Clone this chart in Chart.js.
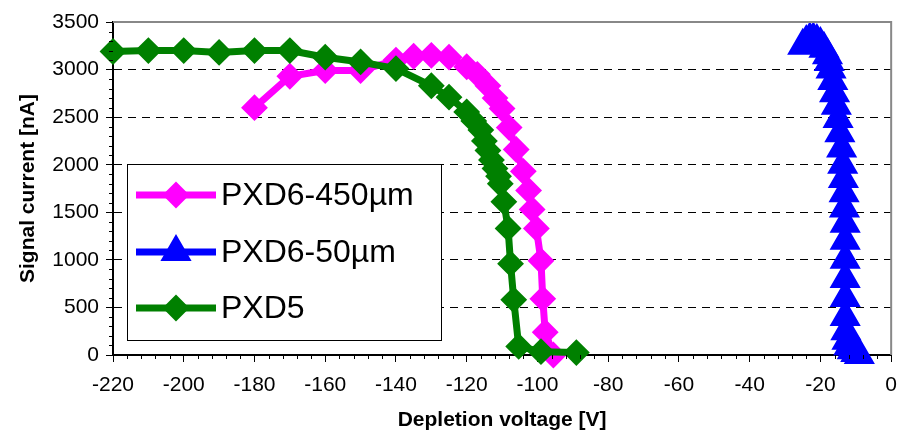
<!DOCTYPE html>
<html>
<head>
<meta charset="utf-8">
<script src="https://cdn.jsdelivr.net/npm/chart.js@4/dist/chart.umd.min.js"></script>
<style>
  html, body { margin: 0; padding: 0; background: #fff; }
  #wrap { width: 900px; height: 436px; }
</style>
</head>
<body>
<div id="wrap"><canvas id="chart" width="900" height="436"></canvas></div>
<script>
// data
const pxd6_450_v = [-180, -170, -160, -150, -140, -135, -130, -125, -120, -117, -114, -112, -110, -108, -106, -104, -102.5, -101.5, -100.3, -99, -98.5, -97.8, -95.5];
const pxd6_450_i = [2600, 2930, 2990, 2990, 3100, 3140, 3150, 3130, 3030, 2950, 2830, 2700, 2590, 2390, 2160, 1930, 1730, 1530, 1330, 990, 590, 240, 0];

const pxd6_50_v = [-25, -24, -23, -22, -21, -20, -19, -18, -17.5, -17, -16.5, -16, -15.5, -15, -14.5, -14, -13.7, -13.5, -13.3, -13.2, -13, -13, -13, -13, -13, -13, -12.8, -12.5, -12, -11, -10, -9];
const pxd6_50_i = [3250, 3290, 3320, 3320, 3300, 3270, 3220, 3150, 3080, 3000, 2880, 2750, 2620, 2480, 2330, 2170, 2000, 1850, 1700, 1540, 1380, 1200, 1000, 800, 600, 400, 250, 150, 90, 50, 20, 0];

const pxd5_v = [-220, -210, -200, -190, -180, -170, -160, -150, -140, -130, -125, -120, -118, -116, -115, -114, -113, -112, -111, -110.5, -109.5, -108.3, -107.6, -106.7, -105.3, -99, -89];
const pxd5_i = [3190, 3200, 3200, 3180, 3200, 3200, 3130, 3080, 3010, 2830, 2710, 2555, 2460, 2365, 2250, 2150, 2050, 1960, 1880, 1800, 1610, 1330, 960, 580, 90, 35, 25];

const xTicks = { min: -220, max: 0, step: 20, minor: 4 };
const yTicks = { min: 0, max: 3500, step: 500, minor: 100 };

function pts(xs, ys) {
    return xs.map((x, i) => ({ x: x, y: ys[i] }));
}

const FONT = '"Liberation Sans", Arial, sans-serif';

// 1. frame: gray top/right border + minor ticks
const framePlugin = {
    id: 'frame',
    afterDraw(chart) {
        const ctx = chart.ctx;
        const a = chart.chartArea;
        const sx = chart.scales.x, sy = chart.scales.y;
        ctx.save();
        ctx.strokeStyle = '#888';
        ctx.lineWidth = 2;
        ctx.beginPath();
        ctx.moveTo(a.left, a.top);
        ctx.lineTo(a.right, a.top);
        ctx.lineTo(a.right, a.bottom);
        ctx.stroke();

        ctx.strokeStyle = '#000';
        ctx.lineWidth = 1;
        ctx.beginPath();
        for (let v = xTicks.min; v <= xTicks.max; v += xTicks.minor) {
            if (v % xTicks.step === 0) continue;
            const px = Math.round(sx.getPixelForValue(v)) + 0.5;
            ctx.moveTo(px, a.bottom);
            ctx.lineTo(px, a.bottom + 4);
        }
        for (let v = yTicks.min; v <= yTicks.max; v += yTicks.minor) {
            if (v % yTicks.step === 0) continue;
            const py = Math.round(sy.getPixelForValue(v)) + 0.5;
            ctx.moveTo(a.left, py);
            ctx.lineTo(a.left - 4, py);
        }
        ctx.stroke();
        ctx.restore();
    }
};

// 2. legend box inside the plot
function drawMarker(ctx, style, x, y, r) {
    ctx.beginPath();
    if (style === 'triangle') {
        ctx.moveTo(x, y - r);
        ctx.lineTo(x + r * 0.866, y + r * 0.5);
        ctx.lineTo(x - r * 0.866, y + r * 0.5);
    } else {
        ctx.moveTo(x - r, y);
        ctx.lineTo(x, y - r);
        ctx.lineTo(x + r, y);
        ctx.lineTo(x, y + r);
    }
    ctx.closePath();
    ctx.fill();
    ctx.stroke();
}

const legendPlugin = {
    id: 'boxLegend',
    afterDraw(chart) {
        const ctx = chart.ctx;
        const box = { x: 127, y: 164, w: 314, h: 176 };
        const rows = [195, 252, 308];
        ctx.save();
        ctx.fillStyle = '#fff';
        ctx.fillRect(box.x, box.y, box.w, box.h);
        ctx.strokeStyle = '#000';
        ctx.lineWidth = 1;
        ctx.strokeRect(box.x + 0.5, box.y + 0.5, box.w, box.h);
        chart.data.datasets.forEach((ds, k) => {
            const y = rows[k];
            ctx.strokeStyle = ds.borderColor;
            ctx.lineWidth = ds.borderWidth;
            ctx.beginPath();
            ctx.moveTo(136, y);
            ctx.lineTo(216, y);
            ctx.stroke();
            ctx.fillStyle = ds.pointBackgroundColor;
            ctx.lineWidth = ds.pointBorderWidth;
            drawMarker(ctx, ds.pointStyle, 176, y, ds.pointRadius);
            ctx.fillStyle = '#000';
            ctx.font = '32px ' + FONT;
            ctx.textBaseline = 'middle';
            ctx.fillText(ds.label, 221, y + 1);
        });
        ctx.restore();
    }
};

new Chart(document.getElementById('chart'), {
    type: 'line',
    data: {
        datasets: [
            {
                label: 'PXD6-450µm', data: pts(pxd6_450_v, pxd6_450_i),
                borderColor: '#FF00FF', backgroundColor: '#FF00FF', borderWidth: 7,
                pointStyle: 'rectRot', pointRadius: 12, pointBackgroundColor: '#FF00FF',
                pointBorderColor: '#FF00FF', pointBorderWidth: 2, order: 2
            },
            {
                label: 'PXD6-50µm', data: pts(pxd6_50_v, pxd6_50_i),
                borderColor: '#0000FF', backgroundColor: '#0000FF', borderWidth: 7,
                pointStyle: 'triangle', pointRadius: 16, pointBackgroundColor: '#0000FF',
                pointBorderColor: '#0000FF', pointBorderWidth: 2, order: 1
            },
            {
                label: 'PXD5', data: pts(pxd5_v, pxd5_i),
                borderColor: '#008000', backgroundColor: '#008000', borderWidth: 7,
                pointStyle: 'rectRot', pointRadius: 12, pointBackgroundColor: '#008000',
                pointBorderColor: '#008000', pointBorderWidth: 2, order: 0
            }
        ]
    },
    options: {
        responsive: false,
        animation: false,
        clip: false,
        layout: { autoPadding: false, padding: { top: 22, right: 4, left: 0, bottom: 0 } },
        plugins: { legend: { display: false }, tooltip: { enabled: false } },
        scales: {
            x: {
                type: 'linear', min: xTicks.min, max: xTicks.max,
                afterFit(s) { s.height = 81; },
                ticks: { stepSize: xTicks.step, color: '#000', padding: 3, font: { family: FONT, size: 21, lineHeight: 1.95 }, callback: (v) => String(v) },
                grid: { drawOnChartArea: false, drawTicks: true, tickLength: 7, tickColor: '#000', tickWidth: 1 },
                border: { display: true, color: '#000', width: 2 },
                title: { display: true, text: 'Depletion voltage [V]', color: '#000', font: { family: FONT, size: 21, weight: 'bold' }, padding: { top: 4, bottom: 3 } }
            },
            y: {
                min: yTicks.min, max: yTicks.max,
                afterFit(s) { s.width = 113; },
                ticks: { stepSize: yTicks.step, color: '#000', padding: 7, font: { family: FONT, size: 21 }, callback: (v) => String(v) },
                grid: {
                    color: (c) => (c.tick && (c.tick.value === 0 || c.tick.value === 3500) ? 'rgba(0,0,0,0)' : '#000'),
                    lineWidth: 1, tickLength: 7, tickColor: '#000', tickWidth: 1
                },
                border: { display: true, color: '#000', width: 2, dash: [8, 6] },
                title: { display: true, text: 'Signal current [nA]', color: '#000', font: { family: FONT, size: 21, weight: 'bold' }, padding: { top: 16, bottom: 4 } }
            }
        }
    },
    plugins: [framePlugin, legendPlugin]
});
</script>
</body>
</html>
